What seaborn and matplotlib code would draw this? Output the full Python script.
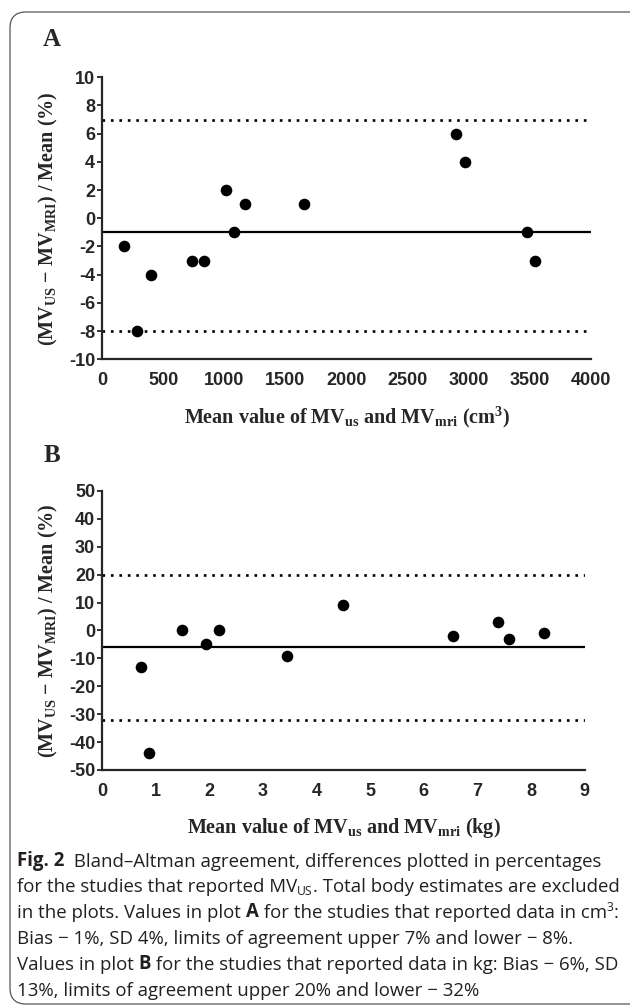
import numpy as np
import matplotlib.pyplot as plt
import seaborn as sns
from matplotlib.patches import FancyBboxPatch
from matplotlib.text import Annotation

# -----------------------------
# Data
# -----------------------------
# Plot A: studies reporting cm3
a_mean = [178, 281, 397, 731, 836, 1012, 1081, 1170, 1653, 2896, 2972, 3481, 3540]
a_diff = [-2, -8, -4, -3, -3, 2, -1, 1, 1, 6, 4, -1, -3]
a_bias, a_upper, a_lower = -1, 7, -8
a_xticks = np.arange(0, 4001, 500)
a_yticks = np.arange(-10, 11, 2)

# Plot B: studies reporting kg
b_mean = [0.73, 0.88, 1.49, 1.94, 2.18, 3.44, 4.49, 6.54, 7.39, 7.59, 8.24]
b_diff = [-13, -44, 0, -5, 0, -9, 9, -2, 3, -3, -1]
b_bias, b_upper, b_lower = -6, 20, -32
b_xticks = np.arange(0, 10, 1)
b_yticks = np.arange(-50, 51, 10)

ylab = r"(MV$_{\mathbf{US}}$ − MV$_{\mathbf{MRI}}$) / Mean (%)"
a_xlab = r"Mean value of MV$_{\mathbf{us}}$ and MV$_{\mathbf{mri}}$ (cm$^{\mathbf{3}}$)"
b_xlab = r"Mean value of MV$_{\mathbf{us}}$ and MV$_{\mathbf{mri}}$ (kg)"

# -----------------------------
# Style
# -----------------------------
sns.set_style("ticks")
plt.rcParams['font.family'] = ['Liberation Sans', 'DejaVu Sans']
plt.rcParams['axes.unicode_minus'] = False
plt.rcParams['mathtext.fontset'] = 'custom'
plt.rcParams['mathtext.rm'] = 'Liberation Serif:bold'
plt.rcParams['mathtext.bf'] = 'Liberation Serif:bold'
plt.rcParams['mathtext.it'] = 'Liberation Serif:bold:italic'

W, H = 630, 1008
fig = plt.figure(figsize=(W / 100, H / 100), dpi=100)


def px_axes(l, t, r, b):
    return fig.add_axes([l / W, 1 - b / H, (r - l) / W, (b - t) / H])


def draw_panel(ax, x, y, bias, upper, lower, xticks, yticks, xlabel, ylx, xly):
    sns.scatterplot(x=x, y=y, ax=ax, color='black', s=70, linewidth=0,
                    zorder=3, clip_on=False)
    ax.axhline(bias, color='black', lw=1.6)
    for v in (upper, lower):
        ax.axhline(v, color='black', lw=1.9, ls=(0, (1, 2.2)))
    ax.set_xlim(xticks[0], xticks[-1])
    ax.set_ylim(yticks[0], yticks[-1])
    ax.set_xticks(xticks)
    ax.set_yticks(yticks)
    sns.despine(ax=ax)
    for s in ('left', 'bottom'):
        ax.spines[s].set_linewidth(1.6)
    ax.tick_params(axis='y', length=3.6, width=1.3, pad=1.5, labelsize=13)
    ax.tick_params(axis='x', length=0, pad=9, labelsize=13)
    for lab in ax.get_xticklabels() + ax.get_yticklabels():
        lab.set_fontweight('bold')
    ax.set_xlabel(xlabel, fontfamily='Liberation Serif', fontweight='bold',
                  fontsize=14.5, va='center')
    ax.set_ylabel(ylab, fontfamily='Liberation Serif', fontweight='bold',
                  fontsize=14.5, va='center')
    ax.xaxis.set_label_coords(0.5, xly)
    ax.yaxis.set_label_coords(ylx, 0.5)


axA = px_axes(102.3, 77.3, 590.7, 359.3)
draw_panel(axA, a_mean, a_diff, a_bias, a_upper, a_lower, a_xticks, a_yticks,
           a_xlab, (48 - 102.3) / 488.4, (359.3 - 417) / 282)

axB = px_axes(102.3, 491, 584.6, 770)
draw_panel(axB, b_mean, b_diff, b_bias, b_upper, b_lower, b_xticks, b_yticks,
           b_xlab, (48 - 102.3) / 482.3, (770 - 828) / 279)

# panel letters
for letter, ypx in (('A', 39), ('B', 455)):
    fig.text(52 / W, 1 - ypx / H, letter, fontfamily='Liberation Serif',
             fontweight='bold', fontsize=18, ha='center', va='center')

# -----------------------------
# Caption
# -----------------------------
cap_font = 'Open Sans'
cap_size = 13.4
cap_color = '#231f20'
caption = [
    [("Fig. 2", 'bold'), ("  Bland–Altman agreement, differences plotted in percentages", 'normal')],
    [("for the studies that reported MV", 'normal'), ("US", 'sub'), (". Total body estimates are excluded", 'normal')],
    [("in the plots. Values in plot ", 'normal'), ("A", 'bold'),
     (" for the studies that reported data in cm", 'normal'), ("3", 'sup'), (":", 'normal')],
    [("Bias − 1%, SD 4%, limits of agreement upper 7% and lower − 8%.", 'normal')],
    [("Values in plot ", 'normal'), ("B", 'bold'),
     (" for the studies that reported data in kg: Bias − 6%, SD", 'normal')],
    [("13%, limits of agreement upper 20% and lower − 32%", 'normal')],
]

for i, parts in enumerate(caption):
    base_y = 866 + 26 * i
    prev = base = None
    for txt, kind in parts:
        kw = dict(fontfamily=cap_font, fontsize=cap_size, color=cap_color, ha='left')
        if kind == 'bold':
            kw['fontweight'] = 'bold'
        if kind in ('sub', 'sup'):
            kw['fontsize'] = cap_size * 0.65
        if prev is None:
            t = fig.text(17 / W, 1 - base_y / H, txt, va='baseline', **kw)
            base = t
        else:
            dy = {'sub': -1.5, 'sup': 5.5}.get(kind, 0)
            t = Annotation(txt, xy=(1, 0), xycoords=(prev, base), xytext=(0, dy),
                           textcoords='offset points', va='bottom', **kw)
            fig.add_artist(t)
        prev = t

# rounded frame
frame = FancyBboxPatch((0.10, 0.04), 6.6, 9.92,
                       boxstyle='round,pad=0,rounding_size=0.16',
                       transform=fig.dpi_scale_trans, fill=False,
                       ec='#555555', lw=0.9)
fig.add_artist(frame)

fig.savefig("out.png", dpi=100)
